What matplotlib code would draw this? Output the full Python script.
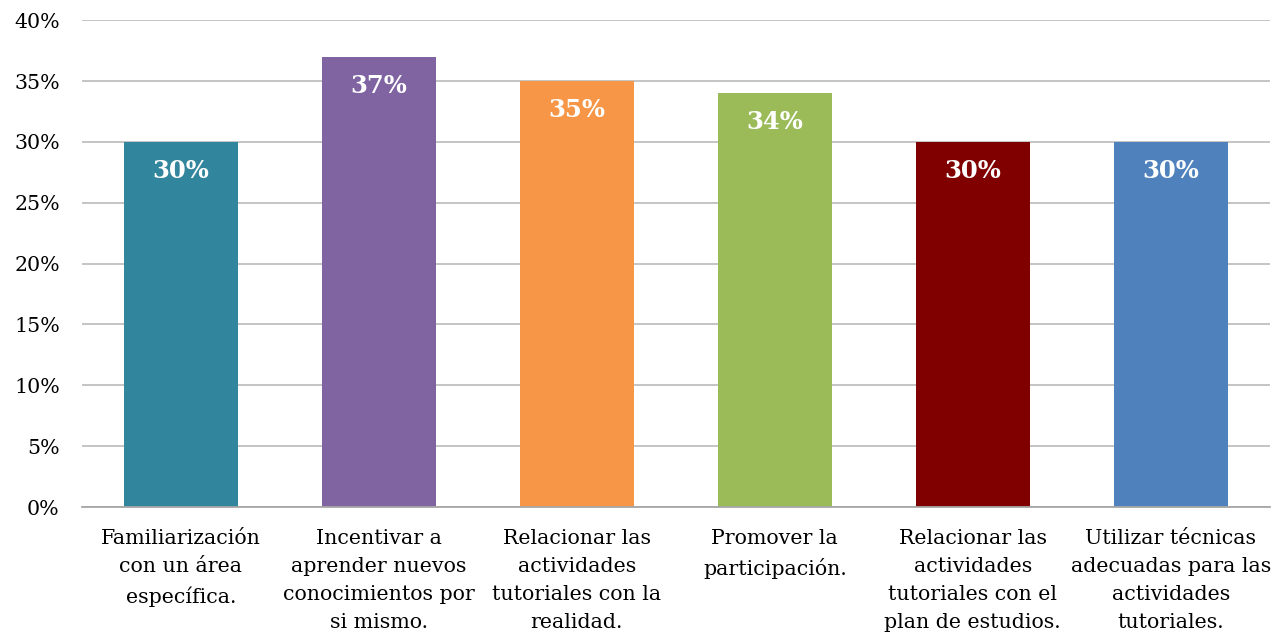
import matplotlib
matplotlib.use('Agg')
from matplotlib import pyplot as plt
from matplotlib.ticker import FuncFormatter

categories = ['Familiarización\ncon un área\nespecífica.',
              'Incentivar a\naprender nuevos\nconocimientos por\nsi mismo.',
              'Relacionar las\nactividades\ntutoriales con la\nrealidad.',
              'Promover la\nparticipación.',
              'Relacionar las\nactividades\ntutoriales con el\nplan de estudios.',
              'Utilizar técnicas\nadecuadas para las\nactividades\ntutoriales.']
values = [30, 37, 35, 34, 30, 30]
colors = ['#31859C', '#8064A2', '#F79646', '#9BBB59', '#800000', '#4F81BD']

plt.rcParams['font.family'] = ['DejaVu Serif']

fig = plt.figure(figsize=(12.8, 6.33), dpi=100)
ax = fig.add_axes([0.064, 0.199, 0.928, 0.769])

x = range(len(values))
bars = ax.bar(x, values, width=0.576, color=colors, zorder=3)

for rect, v in zip(bars, values):
    ax.annotate(f'{v}%', (rect.get_x() + rect.get_width() / 2, v),
                xytext=(0, -29), textcoords='offset pixels',
                ha='center', va='center', color='white', fontsize=17.5, fontweight='bold',
                zorder=4)

ax.set_ylim(0, 40)
ax.set_xlim(-0.5, len(values) - 0.5)
ax.set_yticks(range(0, 41, 5))
ax.yaxis.set_major_formatter(FuncFormatter(lambda v, p: f'{int(v)}%'))
ax.set_xticks(list(x))
ax.set_xticklabels(categories, fontsize=14.8, linespacing=1.62, va='top')
ax.tick_params(axis='y', labelsize=14.8, length=0, pad=16)
ax.tick_params(axis='x', length=0, pad=15.5)
ax.grid(axis='y', color='#BFBFBF', linewidth=1.3, zorder=0)
for s in ['top', 'right', 'left']:
    ax.spines[s].set_visible(False)
ax.spines['bottom'].set_color('#A6A6A6')
ax.spines['bottom'].set_linewidth(1.3)
ax.spines['bottom'].set_zorder(5)

fig.savefig('out.png', dpi=100)
